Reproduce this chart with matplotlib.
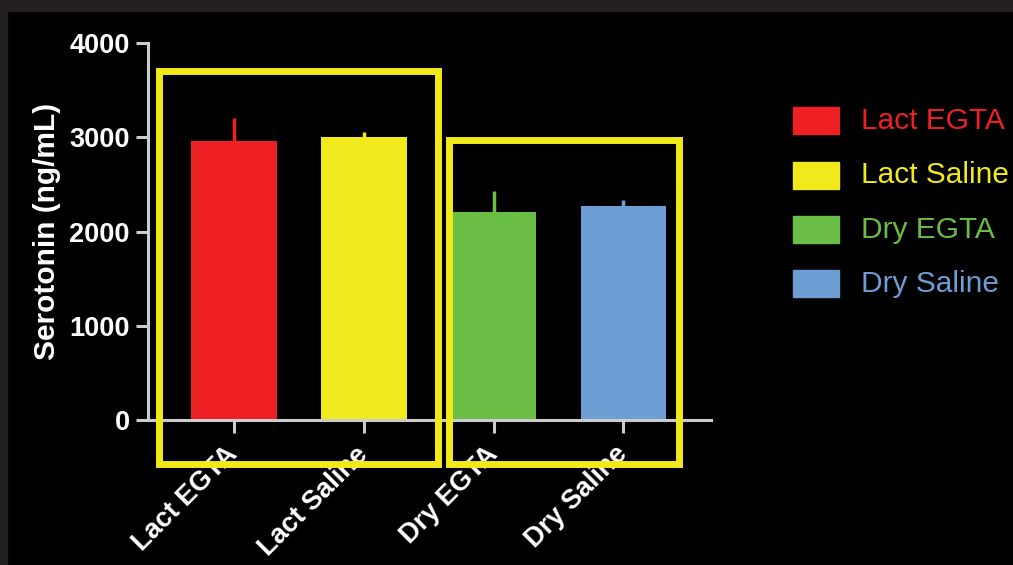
import matplotlib.pyplot as plt
import matplotlib.transforms as mtransforms
from matplotlib.patches import Rectangle

# data
groups = ['Lact EGTA', 'Lact Saline', 'Dry EGTA', 'Dry Saline']
means = [2960, 3005, 2205, 2270]
errs = [245, 55, 225, 65]
colors = ['#ee2024', '#f1e91c', '#6abd45', '#6c9ed3']
yticks = [0, 1000, 2000, 3000, 4000]

W, H = 1013, 565
plt.rcParams['font.family'] = ['Liberation Sans', 'DejaVu Sans']

fig = plt.figure(figsize=(W / 100, H / 100), dpi=100, facecolor='black')
# dark frame strips of the screenshot
fig.add_artist(Rectangle((0, 1 - 11 / H), 1, 11 / H, transform=fig.transFigure, color='#231f20', zorder=0))
fig.add_artist(Rectangle((0, 0), 7 / W, 1, transform=fig.transFigure, color='#231f20', zorder=0))

ax = fig.add_axes([148 / W, (H - 420) / H, (711 - 148) / W, (420 - 43) / H])
ax.set_facecolor('black')

x = list(range(len(groups)))
ax.bar(x, means, width=0.66, color=colors, zorder=2)
for xi, m, e, c in zip(x, means, errs, colors):
    ax.plot([xi, xi], [m, m + e], color=c, lw=2.5, zorder=1, solid_capstyle='butt')

ax.set_xlim(-0.663, 3.675)
ax.set_ylim(0, 4000)
ax.set_yticks(yticks)
ax.set_xticks(x)
ax.set_xticklabels(groups, rotation=45, ha='right', va='center', rotation_mode='anchor',
                   fontsize=19.5, fontweight='bold', color='white')
offset = mtransforms.ScaledTranslation(0.14, 0, fig.dpi_scale_trans)
for lab in ax.get_xticklabels():
    lab.set_transform(lab.get_transform() + offset)
ax.tick_params(axis='x', length=9, width=2.2, color='#cccccc', pad=13)
ax.tick_params(axis='y', length=9, width=2.2, color='#cccccc', labelsize=19.5, labelcolor='white', pad=4)
for lab in ax.get_yticklabels():
    lab.set_fontweight('bold')

for s in ['top', 'right']:
    ax.spines[s].set_visible(False)
for s in ['left', 'bottom']:
    ax.spines[s].set_color('#cccccc')
    ax.spines[s].set_linewidth(2.2)
ax.spines['left'].set_zorder(3)
ax.set_ylabel('Serotonin (ng/mL)', fontsize=21.5, fontweight='bold', color='white', labelpad=6)

# yellow highlight boxes around the two groups (data coords)
boxes = [(-0.58, -462, 1.57, 3698), (1.66, -462, 3.43, 2966)]
for x0, y0, x1, y1 in boxes:
    ax.add_patch(Rectangle((x0, y0), x1 - x0, y1 - y0, fill=False, edgecolor='#f2e919',
                           lw=5, clip_on=False, zorder=4))

# legend drawn by hand
for i, (g, c) in enumerate(zip(groups, colors)):
    yc = 121 + 54.3 * i
    fig.add_artist(Rectangle((793 / W, 1 - (yc + 13.5) / H), 46 / W, 27 / H,
                             transform=fig.transFigure, color=c))
    fig.text(861 / W, 1 - yc / H, g, color=c, fontsize=21.5, va='center', ha='left')

fig.savefig('out.png', dpi=100, facecolor=fig.get_facecolor())
